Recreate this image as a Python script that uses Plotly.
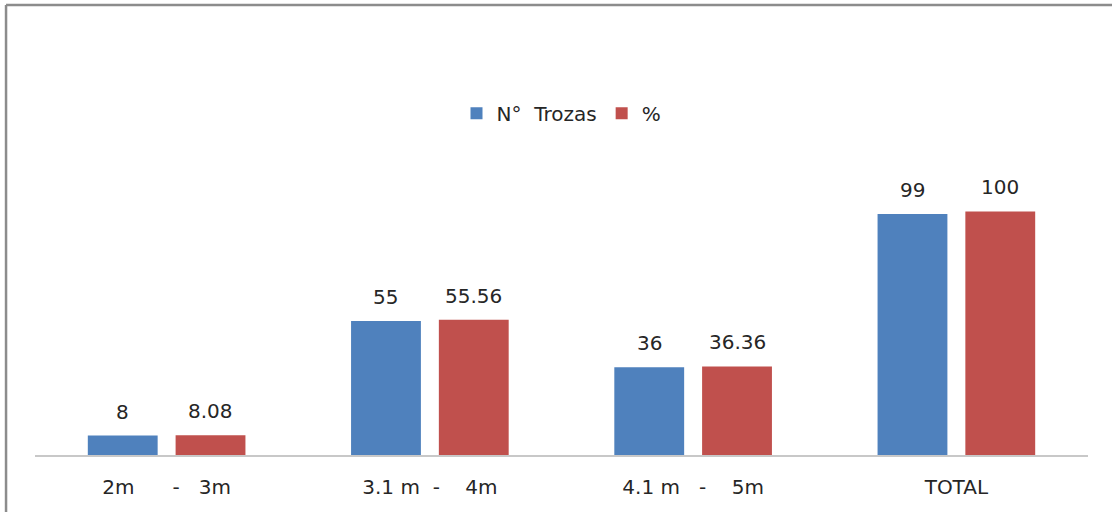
import plotly.graph_objects as go

categories = ["2m\u00a0\u00a0\u00a0\u00a0\u00a0\u00a0-\u00a0\u00a0\u00a03m",
              "3.1 m\u00a0\u00a0-\u00a0\u00a0\u00a0\u00a04m",
              "4.1 m\u00a0\u00a0\u00a0-\u00a0\u00a0\u00a0\u00a05m",
              "TOTAL"]
trozas = [8, 55, 36, 99]
porcentaje = [8.08, 55.56, 36.36, 100]
trozas_labels = ["8", "55", "36", "99"]
porc_labels = ["8.08", "55.56", "36.36", "100"]

BLUE = "#4F81BD"
RED = "#C0504D"
FONT = "DejaVu Sans, sans-serif"
TXT = "#262626"

fig = go.Figure()
fig.add_trace(go.Bar(x=categories, y=trozas, name="N°\u00a0\u00a0Trozas",
                     marker=dict(color=BLUE, line=dict(width=0))))
fig.add_trace(go.Bar(x=categories, y=porcentaje, name="%",
                     marker=dict(color=RED, line=dict(width=0))))

annotations = []
for c, v, t in zip(categories, trozas, trozas_labels):
    annotations.append(dict(x=c, y=v, text=t, xref="x", yref="y", showarrow=False,
                            xshift=-44, yshift=10, yanchor="bottom",
                            font=dict(size=20, color=TXT, family=FONT)))
for c, v, t in zip(categories, porcentaje, porc_labels):
    annotations.append(dict(x=c, y=v, text=t, xref="x", yref="y", showarrow=False,
                            xshift=44, yshift=10, yanchor="bottom",
                            font=dict(size=20, color=TXT, family=FONT)))

fig.update_layout(
    width=1112, height=512,
    margin=dict(l=35, r=24, t=50, b=57),
    paper_bgcolor="white", plot_bgcolor="white",
    barmode="group", bargap=0.333, bargroupgap=0.2045,
    showlegend=True,
    legend=dict(orientation="h", x=0.5, y=0.844, xanchor="center", yanchor="middle",
                font=dict(size=20, color=TXT, family=FONT),
                itemwidth=30, traceorder="normal"),
    annotations=annotations,
    font=dict(family=FONT, color=TXT),
    shapes=[
        dict(type="line", xref="paper", yref="paper", x0=-0.0275, x1=1.03, y0=1.111, y1=1.111,
             line=dict(color="#8C8C8C", width=2.5)),
        dict(type="line", xref="paper", yref="paper", x0=-0.0275, x1=-0.0275, y0=1.111, y1=-0.15,
             line=dict(color="#8C8C8C", width=2.5)),
    ],
)
fig.update_xaxes(showline=True, linecolor="#C8C8C8", linewidth=1.5, ticks="",
                 tickfont=dict(size=20, color=TXT, family=FONT),
                 ticklabelstandoff=13, showgrid=False)
fig.update_yaxes(range=[0, 166.3], visible=False, showgrid=False)

fig.write_html("out.html", config={"displayModeBar": False},
               post_script="document.body.style.margin='0';")
